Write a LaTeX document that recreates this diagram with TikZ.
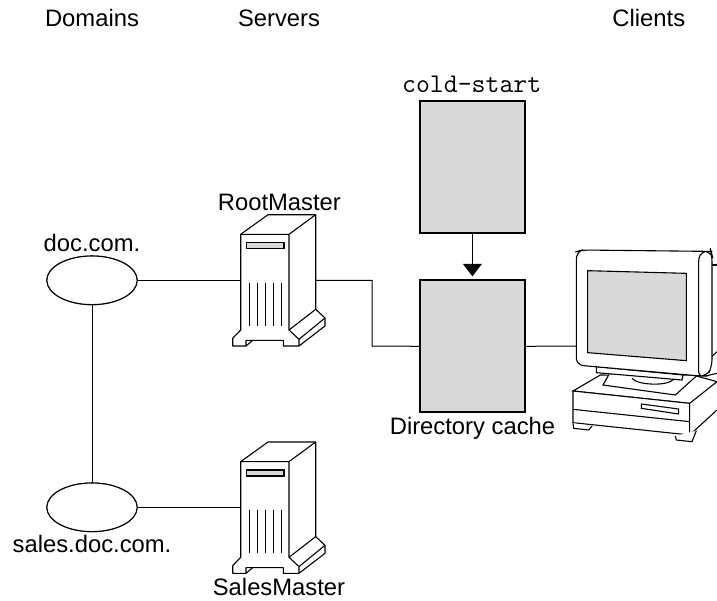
\documentclass[tikz,border=0pt]{standalone}
\usepackage{fontspec}
\setmainfont{Liberation Sans}
\usetikzlibrary{arrows.meta,shapes.geometric}
\definecolor{panel}{gray}{.85}
\tikzset{
  line/.style={black,line width=1.1pt},
  wire/.style={black,line width=1pt},
  labeltext/.style={black,font=\fontsize{23.8}{26}\selectfont,inner sep=0pt,anchor=base},
  domainoval/.style={draw=black,line width=1.1pt,fill=white,ellipse,minimum width=90.3pt,minimum height=48.6pt,inner sep=0pt},
  cachebox/.style={draw=black,line width=2pt,fill=panel,minimum width=105pt,minimum height=132pt,inner sep=0pt},
  server/.pic={
    \draw[line,line join=round,fill=white] (240.7,234.3) -- (268,214.7) -- (315.7,214.7) -- (315.7,309.3) -- (325,318) -- (325,326) -- (299,346) -- (283.3,346) -- (283.3,340.3) -- (246,340.3) -- (246,346) -- (232.7,346) -- (232.7,338.3) -- (240.7,330) -- cycle;
    \draw[line] (240.7,234.3) -- (289,234.3) -- (315.7,214.7);
    \draw[line] (289,234.3) -- (289,330) -- (299,339.3) -- (299,346);
    \draw[line] (289,330) -- (315.7,309.3);
    \draw[line] (299,339.3) -- (325,318);
    \draw[line] (246,346) -- (252.7,340.3);
    \draw[line,fill=panel] (246.3,242.7) rectangle (284,248.7);
    \foreach \ventx in {249.3,257.3,265.3,273.3,281.7}
      \draw[line] (\ventx,282.7) -- (\ventx,326);
  }
}
\begin{document}
\begin{tikzpicture}[x=1pt,y=-1pt]
    \useasboundingbox (0,0) rectangle (717,600);
    % Headings ====================================================
    \node[labeltext] (domains) at (92,26.7)    {Domains};
    \node[labeltext] (servers) at (279,26.7)   {Servers};
    \node[labeltext] (clients) at (648.8,26.7) {Clients};
    % Domains =====================================================
    \node[domainoval] (doc)   at (92,280.3) {};
    \node[domainoval] (sales) at (92,507.3) {};
    \node[labeltext] (doclabel)   at (92,251)   {doc.com.};
    \node[labeltext] (saleslabel) at (92,552.7) {sales.doc.com.};
    % Servers =====================================================
    \coordinate (rootwest)  at (241,280.3);
    \coordinate (rooteast)  at (315.7,280.3);
    \coordinate (bend)      at (372,346);
    \coordinate (saleswest) at (241,507.3);
    \draw[wire] (doc) -- (sales);
    \draw[wire] (doc.east) -- (rootwest);
    \draw[wire] (sales.east) -- (saleswest);
    \node[domainoval] at (doc) {};
    \node[domainoval] at (sales) {};
    \pic at (0,0) {server};
    \pic at (0,227.3) {server};
    \node[labeltext] (rootlabel)  at (279.4,210)   {RootMaster};
    \node[labeltext] (saleslbl)   at (279,595.7)   {SalesMaster};
    % Cache =======================================================
    \node[cachebox] (start) at (472.4,166.8) {};
    \node[cachebox] (dir)   at (472.4,346.3) {};
    \node[black,font=\ttfamily\fontsize{27}{29}\selectfont,inner sep=0pt,anchor=base] (startlabel) at (471.7,92.7) {cold-start};
    \node[labeltext] (dirlabel) at (472.5,434) {Directory cache};
    \draw[wire,shorten >=3pt,-{Triangle[length=12.5pt,width=19pt]}] (start) -- (dir);
    \draw[wire] (rooteast) -| (bend) -- (dir.west);
    \coordinate (monwest) at (577,346);
    \draw[wire] (dir.east) -- (monwest);
    % Client ======================================================
    \begin{scope}[shift={(557,240)},scale=1/3]
      \draw[line] (465,75) -- (480,75);
      \draw[line] (462,352) -- (480,335);
      \draw[line] (445,408) -- (480,400);
      \draw[line,fill=white] (48,453) -- (130,405) -- (418,408) -- (480,425) -- (398,490) -- cycle;
      \draw[line,fill=white] (48,453) -- (398,490) -- (398,585) -- (48,548) -- cycle;
      \draw[line] (48,508) -- (398,545);
      \draw[line] (398,585) -- (480,510);
      \draw[line,fill=white] (48,550) -- (50,565) -- (95,570) -- (105,558);
      \draw[line,fill=white] (355,588) -- (358,600) -- (405,605) -- (418,572);
      \draw[line] (253,492) -- (365,507) -- (365,522) -- (253,505) -- cycle;
      \draw[line,fill=white] (155,405) -- (138,435) -- (355,465) -- (418,408);
      \draw[line,fill=white] (225,415) .. controls (240,435) and (330,440) .. (350,418);
      \draw[line,fill=white] (118,380) -- (118,398) -- (375,420) -- (378,405) -- cycle;
      \draw[line,fill=white,rounded corners=7pt] (75,30) -- (445,34) -- (462,34) -- (465,45) -- (465,380) -- (450,408) -- (430,408) -- (58,375) -- (58,35) -- cycle;
      \draw[line] (445,34) .. controls (430,40) and (425,50) .. (425,65) -- (425,395) .. controls (425,402) and (428,406) .. (433,408);
      \draw[line,fill=panel] (92,92) -- (388,100) -- (388,362) -- (92,338) -- cycle;
    \end{scope}
\end{tikzpicture}
\end{document}
